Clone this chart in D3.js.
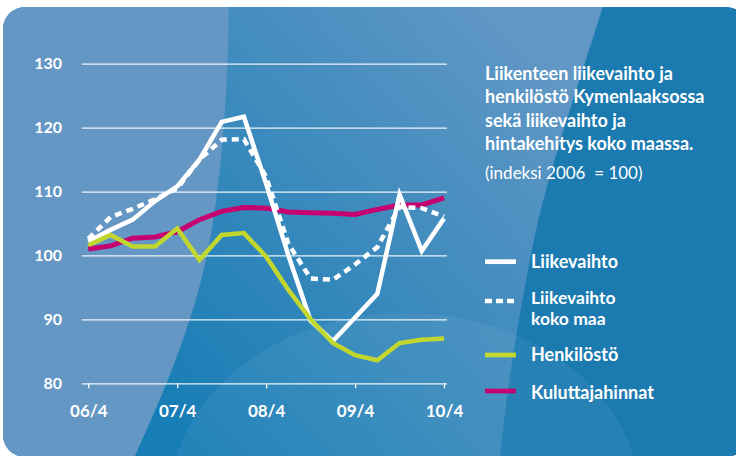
<!DOCTYPE html>
<html>
<head>
<meta charset="utf-8">
<script src="https://cdn.jsdelivr.net/npm/d3@7"></script>
<style>
body { margin: 0; background: #fff; }
svg text { font-family: Lato, "Open Sans", sans-serif; fill: #fff; }
</style>
</head>
<body>
<svg id="kuvio" width="736" height="456"></svg>
<script>
var quarters = ["06/4", "07/1", "07/2", "07/3", "07/4", "08/1", "08/2", "08/3", "08/4",
                "09/1", "09/2", "09/3", "09/4", "10/1", "10/2", "10/3", "10/4"];
var xTicks = ["06/4", "07/4", "08/4", "09/4", "10/4"];
var yTicks = [80, 90, 100, 110, 120, 130];

var liikevaihto    = [102.2, 104.0, 105.6, 108.5, 110.8, 115.0, 120.9, 121.7, 111.2, 100.0, 89.8, 86.6, 90.3, 94.0, 109.5, 100.7, 105.8];
var liikevaihtoMaa = [102.6, 106.0, 107.3, 108.8, 110.5, 115.0, 118.1, 118.2, 112.3, 101.8, 96.4, 96.2, 98.6, 101.3, 107.6, 107.4, 106.1];
var henkilosto     = [101.6, 103.2, 101.4, 101.4, 104.2, 99.3, 103.2, 103.5, 99.8, 94.6, 90.0, 86.3, 84.4, 83.6, 86.3, 86.8, 87.0];
var kuluttajahinnat = [101.0, 101.5, 102.7, 102.9, 103.7, 105.6, 106.9, 107.5, 107.4, 106.8, 106.7, 106.6, 106.4, 107.2, 107.9, 107.9, 109.0];

var otsikko = ["Liikenteen liikevaihto ja", "henkilöstö Kymenlaaksossa", "sekä liikevaihto ja", "hintakehitys koko maassa."];
var alaotsikko = "(indeksi 2006  = 100)";

var svg = d3.select("#kuvio");

// tausta
var defs = svg.append("defs");
defs.append("clipPath").attr("id", "kehys")
    .append("rect").attr("x", 3).attr("y", 7).attr("width", 745).attr("height", 450).attr("rx", 22);
var grad = defs.append("linearGradient").attr("id", "keski")
    .attr("gradientUnits", "userSpaceOnUse")
    .attr("x1", 200).attr("y1", 450).attr("x2", 580).attr("y2", 100);
grad.append("stop").attr("offset", 0).attr("stop-color", "#177db5");
grad.append("stop").attr("offset", 1).attr("stop-color", "#6097c5");

var tausta = svg.append("g").attr("clip-path", "url(#kehys)");
tausta.append("rect").attr("width", 740).attr("height", 460).attr("fill", "url(#keski)");
tausta.append("path")
    .attr("d", "M605,0 C580,80 545,180 532,250 C518,320 505,400 500,460 L740,460 L740,0 Z")
    .attr("fill", "#1b7ab0");
tausta.append("ellipse")
    .attr("cx", 405).attr("cy", 500).attr("rx", 235).attr("ry", 187)
    .attr("fill", "#fff").attr("opacity", 0.06);
tausta.append("path")
    .attr("d", "M229,0 C228,90 222,170 210,240 C195,320 165,390 133,460 L0,460 L0,0 Z")
    .attr("fill", "#6497c4");

// asteikot
var x = d3.scalePoint().domain(quarters).range([88.3, 444]);
var y = d3.scaleLinear().domain([80, 130]).range([383.3, 63.7]);

var gY = svg.append("g")
    .attr("transform", "translate(82,0)")
    .call(d3.axisLeft(y).tickValues(yTicks).tickSize(-365).tickPadding(20));
gY.select(".domain").remove();
gY.selectAll("line").attr("stroke", "#fff").attr("stroke-opacity", 0.9).attr("stroke-width", 1.3);
gY.selectAll("text").attr("fill", "#fff").style("font-size", "16px").style("font-weight", "bold");

var gX = svg.append("g")
    .attr("transform", "translate(0," + y(80) + ")")
    .call(d3.axisBottom(x).tickValues(xTicks).tickSize(5));
gX.select(".domain").remove();
gX.selectAll("line").attr("stroke", "#fff").attr("stroke-width", 1.3);
gX.selectAll("text").attr("fill", "#fff").attr("y", 34).attr("dy", 0)
    .style("font-size", "17px").style("font-weight", "bold");

// viivat
var viiva = d3.line()
    .x(function(d, i) { return x(quarters[i]); })
    .y(function(d) { return y(d); });

var sarjat = [
    { arvot: kuluttajahinnat, vari: "#c6006f", leveys: 5 },
    { arvot: liikevaihtoMaa, vari: "#fff", leveys: 4.5, katko: "7,5" },
    { arvot: liikevaihto, vari: "#fff", leveys: 4.5 },
    { arvot: henkilosto, vari: "#c2d72e", leveys: 4.5 }
];

svg.append("g").selectAll("path")
    .data(sarjat)
    .enter().append("path")
    .attr("d", function(d) { return viiva(d.arvot); })
    .attr("fill", "none")
    .attr("stroke", function(d) { return d.vari; })
    .attr("stroke-width", function(d) { return d.leveys; })
    .attr("stroke-dasharray", function(d) { return d.katko || null; })
    .attr("stroke-linejoin", "miter");

// otsikko
var gO = svg.append("g").attr("transform", "translate(485,0)");
gO.selectAll("text.rivi")
    .data(otsikko)
    .enter().append("text")
    .attr("class", "rivi")
    .attr("y", function(d, i) { return 79.5 + i * 23.5; })
    .style("font-size", "18px").style("font-weight", "bold")
    .text(function(d) { return d; });
gO.append("text").attr("y", 179)
    .style("font-size", "17px")
    .style("white-space", "pre")
    .text(alaotsikko);

// selite
var selite = [
    { nimi: ["Liikevaihto"], vari: "#fff", y: 261.7, teksti: 267.5 },
    { nimi: ["Liikevaihto", "koko maa"], vari: "#fff", y: 301, teksti: 303.8, katko: "7,4" },
    { nimi: ["Henkilöstö"], vari: "#c2d72e", y: 355, teksti: 360.5 },
    { nimi: ["Kuluttajahinnat"], vari: "#c6006f", y: 391, teksti: 398.5 }
];
var gS = svg.append("g").selectAll("g")
    .data(selite)
    .enter().append("g");
gS.append("line")
    .attr("x1", 485).attr("x2", 516)
    .attr("y1", function(d) { return d.y; }).attr("y2", function(d) { return d.y; })
    .attr("stroke", function(d) { return d.vari; })
    .attr("stroke-width", 4.7)
    .attr("stroke-dasharray", function(d) { return d.katko || null; });
gS.append("text")
    .attr("x", 531)
    .attr("y", function(d) { return d.teksti; })
    .style("font-size", function(d) { return d.nimi.length > 1 ? "17.5px" : "18px"; })
    .style("font-weight", "bold")
    .selectAll("tspan")
    .data(function(d) { return d.nimi; })
    .enter().append("tspan")
    .attr("x", 531)
    .attr("dy", function(d, i) { return i ? 21.3 : 0; })
    .text(function(d) { return d; });
</script>
</body>
</html>
